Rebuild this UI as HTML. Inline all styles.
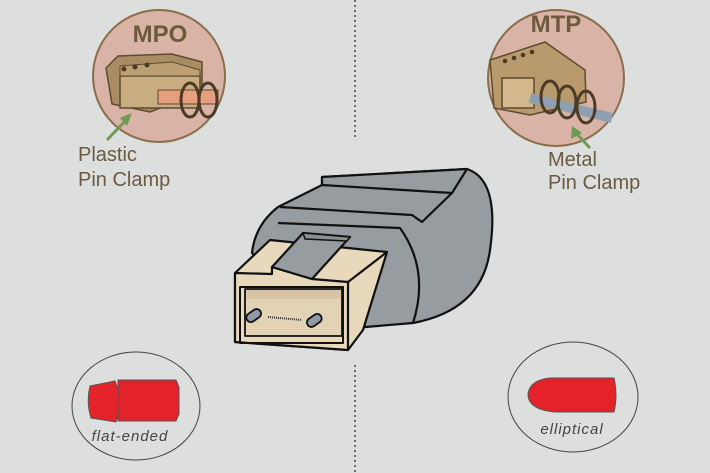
<!DOCTYPE html>
<html><head><meta charset="utf-8"><style>
html,body{margin:0;padding:0;background:#dcdfde;}
svg{display:block}
.hand{font-family:"Liberation Sans",sans-serif;fill:#6b5a3e;}
.lab{font-family:"Liberation Sans",sans-serif;font-style:italic;fill:#444;font-size:15px;letter-spacing:1px}
</style></head><body>
<svg width="710" height="473" viewBox="0 0 710 473" xmlns="http://www.w3.org/2000/svg">
<rect width="710" height="473" fill="#dcdfde"/>
<line x1="355" y1="0" x2="355" y2="140" stroke="#444" stroke-width="1.5" stroke-dasharray="2,3"/>
<line x1="355" y1="365" x2="355" y2="473" stroke="#444" stroke-width="1.5" stroke-dasharray="2,3"/>

<!-- MPO -->
<circle cx="159" cy="76" r="66" fill="#d9b3a6" stroke="#8a6d4a" stroke-width="2"/>
<text x="160" y="42" class="hand" font-size="24" font-weight="bold" text-anchor="middle" fill="#4e4030">MPO</text>
<polygon points="106,68 118,56 172,54 202,62 202,92 150,112 112,104" fill="#a88c62" stroke="#5e4a30" stroke-width="1.5"/>
<polygon points="120,76 200,76 200,108 120,108" fill="#c9ad80" stroke="#5e4a30" stroke-width="1.5"/>
<polygon points="120,66 172,62 200,70 200,76 120,76" fill="#bca073" stroke="#5e4a30" stroke-width="1"/>
<rect x="158" y="90" width="60" height="14" fill="#e59e7e" stroke="#5e4a30"/>
<g fill="none" stroke="#4a3a26" stroke-width="3">
<ellipse cx="190" cy="100" rx="9" ry="17"/><ellipse cx="208" cy="100" rx="9" ry="17"/>
</g>
<circle cx="124" cy="69" r="2.5" fill="#4a3a26"/><circle cx="135" cy="67" r="2.5" fill="#4a3a26"/><circle cx="147" cy="65" r="2.5" fill="#4a3a26"/>
<line x1="107" y1="140" x2="128" y2="118" stroke="#6f9a56" stroke-width="3"/>
<polygon points="132,113 120,118 127,126" fill="#6f9a56"/>
<text x="78" y="161" class="hand" font-size="20">Plastic</text>
<text x="78" y="186" class="hand" font-size="20">Pin Clamp</text>

<!-- MTP -->
<circle cx="556" cy="78" r="68" fill="#d9b3a6" stroke="#8a6d4a" stroke-width="2"/>
<text x="556" y="32" class="hand" font-size="24" font-weight="bold" text-anchor="middle" fill="#4e4030">MTP</text>
<polygon points="490,60 545,42 585,70 586,102 530,115 494,108" fill="#b89a6d" stroke="#5e4a30" stroke-width="1.5"/>
<rect x="502" y="78" width="32" height="30" fill="#d2b88c" stroke="#5e4a30" stroke-width="1.5"/>
<line x1="530" y1="98" x2="612" y2="118" stroke="#8ea0b0" stroke-width="10"/>
<g fill="none" stroke="#4a3a26" stroke-width="3">
<ellipse cx="550" cy="97" rx="9" ry="16"/><ellipse cx="567" cy="102" rx="9" ry="16"/><ellipse cx="586" cy="107" rx="9" ry="16"/>
</g>
<circle cx="505" cy="61" r="2.3" fill="#4a3a26"/><circle cx="514" cy="58" r="2.3" fill="#4a3a26"/><circle cx="523" cy="55" r="2.3" fill="#4a3a26"/><circle cx="532" cy="52" r="2.3" fill="#4a3a26"/>
<line x1="590" y1="148" x2="576" y2="133" stroke="#6f9a56" stroke-width="3"/>
<polygon points="572,126 571,139 582,133" fill="#6f9a56"/>
<text x="548" y="166" class="hand" font-size="20">Metal</text>
<text x="548" y="189" class="hand" font-size="20">Pin Clamp</text>

<!-- connector -->
<g stroke="#111" stroke-width="2.2" stroke-linejoin="round">
<path d="M322,177 L467,169 Q500,180 490,250 Q482,310 413,323 L330,330 L252,253 Q255,225 278,207 L322,185 Z" fill="#979ca1"/>
<path d="M322,177 L467,169 L452,193 L322,185 Z" fill="#979ca1"/>
<path d="M452,193 L422,222 L412,215 L280,207" fill="none"/>
<path d="M278,223 L400,228 Q430,270 413,323" fill="none"/>
<!-- beige -->
<polygon points="235,273 270,240 387,252 363,330 348,350 235,342" fill="#e8d8bc"/>
<polygon points="235,273 272,274 272,267 312,279 348,282 348,350 235,342" fill="#e8d8bc"/>
<line x1="348" y1="282" x2="387" y2="252"/>
<!-- key -->
<polygon points="272,267 303,233 350,237 312,279" fill="#979ca1"/>
<polygon points="303,233 350,237 347,241 305,239" fill="#8a8f95" stroke-width="1.5"/>
<rect x="240" y="287" width="103" height="56" fill="none" stroke-width="2"/>
<rect x="245" y="289" width="97" height="47" fill="#e3d3b5" stroke-width="1.8"/>
<rect x="246" y="290" width="95" height="9" fill="#d6c4a3" stroke="none"/>
</g>
<line x1="268" y1="317" x2="302" y2="320" stroke="#333" stroke-width="2" stroke-dasharray="1,1"/>
<g stroke="#111" stroke-width="1.8" fill="#8f9aa6">
<rect x="246" y="311" width="16" height="9" rx="4.5" transform="rotate(-35 254 316)"/>
<rect x="306" y="316" width="16" height="9" rx="4.5" transform="rotate(-35 314 320)"/>
</g>

<!-- flat-ended -->
<ellipse cx="136" cy="406" rx="64" ry="54" fill="none" stroke="#444" stroke-width="1"/>
<path d="M118,380 L176,380 L179,387 L179,414 L176,421 L118,421 Z" fill="#e4222a" stroke="#555" stroke-width="1"/>
<path d="M90,386 L115,381 Q123,400 116,422 L91,418 Q86,402 90,386 Z" fill="#e4222a" stroke="#555" stroke-width="1"/>
<text x="130" y="441" class="lab" text-anchor="middle">flat-ended</text>

<!-- elliptical -->
<ellipse cx="573" cy="397" rx="65" ry="55" fill="none" stroke="#444" stroke-width="1"/>
<path d="M550,378 L614,378 Q618,395 614,412 L556,412 Q528,410 528,394 Q530,380 550,378 Z" fill="#e4222a" stroke="#555" stroke-width="1"/>
<text x="572" y="434" class="lab" text-anchor="middle">elliptical</text>
</svg>
</body></html>
